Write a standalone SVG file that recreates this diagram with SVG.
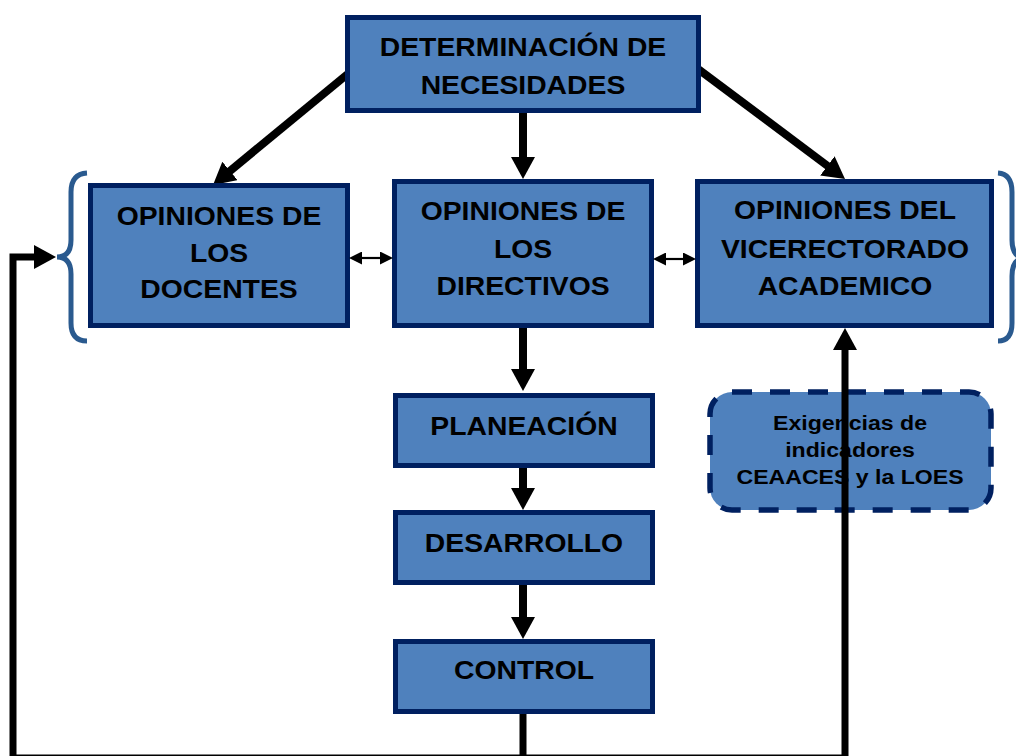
<svg xmlns="http://www.w3.org/2000/svg" width="1016" height="756" viewBox="0 0 1016 756">
  <style>
    .box { fill: #4F81BD; stroke: #002060; stroke-width: 5; }
    .dash { fill: #4F81BD; stroke: #002060; stroke-width: 5.5; stroke-dasharray: 20 18; }
    .t { font-family: "Liberation Sans", Arial, sans-serif; font-weight: bold; font-size: 26px; fill: #000; text-anchor: middle; }
    .ts { font-family: "Liberation Sans", Arial, sans-serif; font-weight: bold; font-size: 21px; fill: #000; text-anchor: middle; }
    .thick { fill: none; stroke: #000; stroke-width: 8; }
    .fb { fill: none; stroke: #000; stroke-width: 7; stroke-linejoin: miter; }
    .thin { fill: none; stroke: #000; stroke-width: 2.2; }
    .brace { fill: none; stroke: #2A5A8F; stroke-width: 5; }
  </style>
  <defs>
    <marker id="big" viewBox="0 0 22 24" markerWidth="22" markerHeight="24" refX="1" refY="12" orient="auto" markerUnits="userSpaceOnUse">
      <path d="M0,0 L22,12 L0,24 z" fill="#000"/>
    </marker>
    <marker id="small" viewBox="0 0 13 13" markerWidth="13" markerHeight="13" refX="1" refY="6.5" orient="auto-start-reverse" markerUnits="userSpaceOnUse">
      <path d="M0,0 L13,6.5 L0,13 z" fill="#000"/>
    </marker>
  </defs>

  <g id="node-exigencias">
    <rect class="dash" x="710" y="392" width="281" height="118" rx="22" ry="22"/>
    <g transform="translate(850,0) scale(1.1,1)">
      <text class="ts" x="0" y="430">Exigencias de</text>
      <text class="ts" x="0" y="457">indicadores</text>
      <text class="ts" x="0" y="484">CEAACES y la LOES</text>
    </g>
  </g>

  <g id="connectors">
    <line class="thick" x1="355" y1="68" x2="229.2" y2="171.6" marker-end="url(#big)"/>
    <line class="thick" x1="690" y1="63" x2="828.2" y2="166.4" marker-end="url(#big)"/>
    <line class="thick" x1="523" y1="100" x2="523" y2="158" marker-end="url(#big)"/>
    <line class="thick" x1="523" y1="320" x2="523" y2="370" marker-end="url(#big)"/>
    <line class="thick" x1="523" y1="460" x2="523" y2="489" marker-end="url(#big)"/>
    <line class="thick" x1="523" y1="580" x2="523" y2="618" marker-end="url(#big)"/>
    <path class="fb" d="M523,708 V758 H13 V257 H35" marker-end="url(#big)"/>
    <path class="fb" d="M523,758 H845 V349" marker-end="url(#big)"/>
  </g>

  <g id="brace-left">
    <path class="brace" d="M87,173 Q71,174 71,192 V240 Q71,257 57,257 Q71,257 71,274 V323 Q71,341 87,341"/>
  </g>
  <g id="brace-right">
    <path class="brace" d="M998,173 Q1012,174 1012,192 V240 Q1012,258 1026,258 Q1012,258 1012,276 V323 Q1012,341 998,341"/>
  </g>

  <g id="node-determinacion">
    <rect class="box" x="347.5" y="17.5" width="351" height="93"/>
    <g transform="translate(523,0) scale(1.09,1)">
      <text class="t" x="0" y="56">DETERMINACIÓN DE</text>
      <text class="t" x="0" y="94">NECESIDADES</text>
    </g>
  </g>

  <g id="node-docentes">
    <rect class="box" x="90.5" y="185.5" width="257" height="140"/>
    <g transform="translate(219,0) scale(1.09,1)">
      <text class="t" x="0" y="225">OPINIONES DE</text>
      <text class="t" x="0" y="262">LOS</text>
      <text class="t" x="0" y="298">DOCENTES</text>
    </g>
  </g>

  <g id="node-directivos">
    <rect class="box" x="394.5" y="181.5" width="257" height="144"/>
    <g transform="translate(523,0) scale(1.09,1)">
      <text class="t" x="0" y="220">OPINIONES DE</text>
      <text class="t" x="0" y="258">LOS</text>
      <text class="t" x="0" y="295">DIRECTIVOS</text>
    </g>
  </g>

  <g id="node-vicerrectorado">
    <rect class="box" x="697.5" y="181.5" width="294" height="144"/>
    <g transform="translate(845,0) scale(1.09,1)">
      <text class="t" x="0" y="219">OPINIONES DEL</text>
      <text class="t" x="0" y="258">VICERECTORADO</text>
      <text class="t" x="0" y="295">ACADEMICO</text>
    </g>
  </g>

  <g id="node-planeacion">
    <rect class="box" x="395.5" y="395.5" width="257" height="70"/>
    <g transform="translate(524,0) scale(1.09,1)">
      <text class="t" x="0" y="435">PLANEACIÓN</text>
    </g>
  </g>

  <g id="node-desarrollo">
    <rect class="box" x="395.5" y="512.5" width="257" height="70"/>
    <g transform="translate(524,0) scale(1.09,1)">
      <text class="t" x="0" y="552">DESARROLLO</text>
    </g>
  </g>

  <g id="node-control">
    <rect class="box" x="395.5" y="641.5" width="257" height="70"/>
    <g transform="translate(524,0) scale(1.09,1)">
      <text class="t" x="0" y="679">CONTROL</text>
    </g>
  </g>

  <g id="connectors-lateral">
    <line class="thin" x1="361" y1="258" x2="381" y2="258" marker-start="url(#small)" marker-end="url(#small)"/>
    <line class="thin" x1="665" y1="259" x2="684" y2="259" marker-start="url(#small)" marker-end="url(#small)"/>
  </g>
</svg>
